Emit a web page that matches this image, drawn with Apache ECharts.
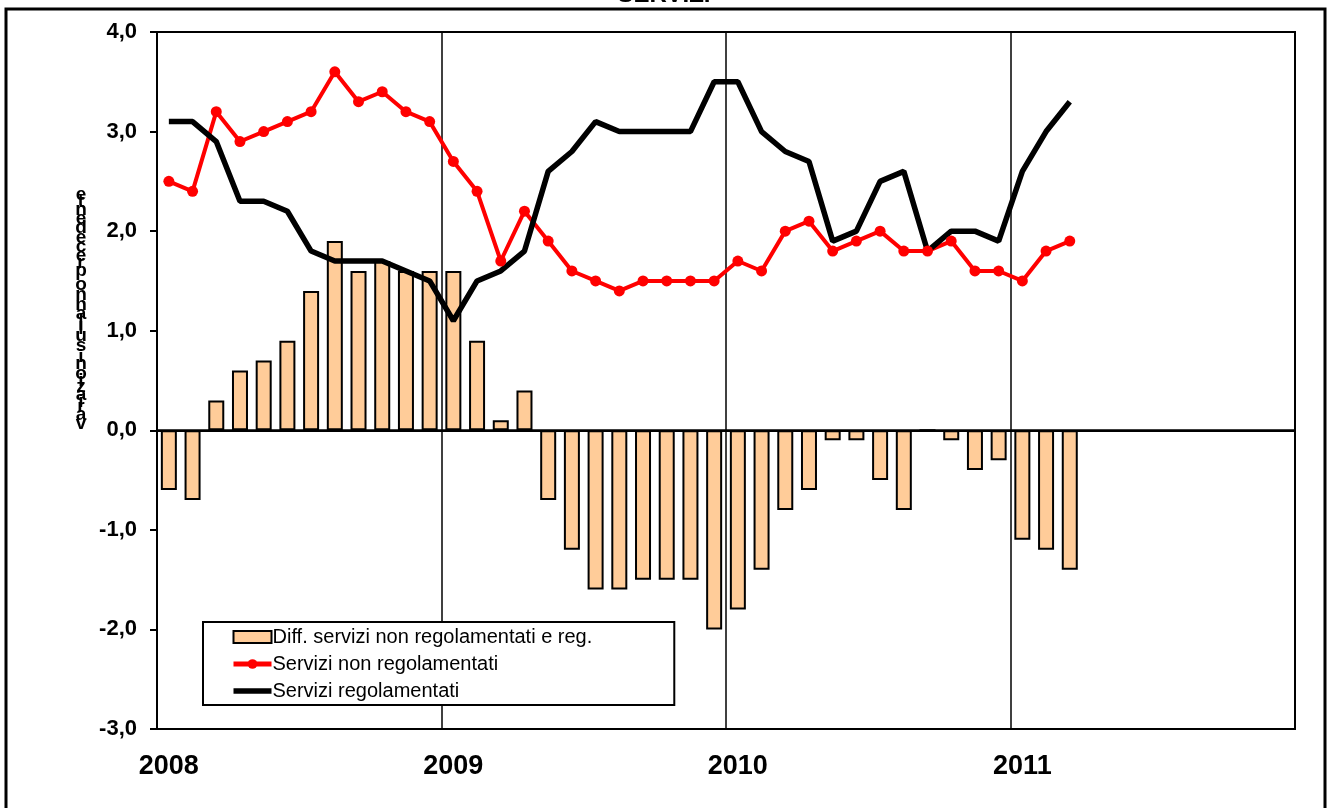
<!DOCTYPE html>
<html>
<head>
<meta charset="utf-8">
<script src="https://cdn.jsdelivr.net/npm/echarts@6/dist/echarts.min.js"></script>
<style>
    html, body { margin: 0; padding: 0; background: #fff; }
    #chart { width: 1328px; height: 808px; }
</style>
</head>
<body>
<div id="chart"></div>
<script>
// mesi da gen 2008 a dic 2011 (48 categorie), dati fino a mar 2011
const yearLabels = ['2008', '2009', '2010', '2011']
const months = []
for (let y = 0; y < yearLabels.length; y++) {
    for (let m = 1; m <= 12; m++) {
        months.push(yearLabels[y] + '-' + (m < 10 ? '0' + m : m))
    }
}

const diffValues = [
    -0.6, -0.7, 0.3, 0.6, 0.7, 0.9, 1.4, 1.9, 1.6, 1.7, 1.6, 1.6,
    1.6, 0.9, 0.1, 0.4, -0.7, -1.2, -1.6, -1.6, -1.5, -1.5, -1.5, -2.0,
    -1.8, -1.4, -0.8, -0.6, -0.1, -0.1, -0.5, -0.8, 0.0, -0.1, -0.4, -0.3,
    -1.1, -1.2, -1.4
]
const nonRegValues = [
    2.5, 2.4, 3.2, 2.9, 3.0, 3.1, 3.2, 3.6, 3.3, 3.4, 3.2, 3.1,
    2.7, 2.4, 1.7, 2.2, 1.9, 1.6, 1.5, 1.4, 1.5, 1.5, 1.5, 1.5,
    1.7, 1.6, 2.0, 2.1, 1.8, 1.9, 2.0, 1.8, 1.8, 1.9, 1.6, 1.6,
    1.5, 1.8, 1.9
]
const regValues = [
    3.1, 3.1, 2.9, 2.3, 2.3, 2.2, 1.8, 1.7, 1.7, 1.7, 1.6, 1.5,
    1.1, 1.5, 1.6, 1.8, 2.6, 2.8, 3.1, 3.0, 3.0, 3.0, 3.0, 3.5,
    3.5, 3.0, 2.8, 2.7, 1.9, 2.0, 2.5, 2.6, 1.8, 2.0, 2.0, 1.9,
    2.6, 3.0, 3.3
]

const seriesNames = ['Diff. servizi non regolamentati e reg.', 'Servizi non regolamentati', 'Servizi regolamentati']
const yAxisName = "variazioni sull'anno precedente"
const titleText = 'SERVIZI'

const fontFamily = '"Liberation Sans", Arial, sans-serif'

// etichetta asse y: lettere dritte impilate dal basso (come nell'originale)
function buildYName() {
    let ctx = document.createElement('canvas').getContext('2d')
    ctx.font = 'bold 16px ' + fontFamily
    let pos = 428
    let items = []
    for (let ch of yAxisName) {
        let w = ctx.measureText(ch).width
        if (ch !== ' ') {
            items.push({
                type: 'text',
                x: 81,
                y: pos - w / 2,
                style: {
                    text: ch,
                    font: 'bold 19px ' + fontFamily,
                    fill: '#000',
                    textAlign: 'center',
                    textVerticalAlign: 'middle'
                }
            })
        }
        pos -= w
    }
    return items
}

const chart = echarts.init(document.getElementById('chart'))

const option = {
    animation: false,
    backgroundColor: '#fff',
    grid: {
        left: 157,
        top: 32,
        right: 33,
        bottom: 79,
        show: true,
        borderColor: '#000',
        borderWidth: 2,
        backgroundColor: 'transparent'
    },
    legend: {
        orient: 'vertical',
        left: 203,
        top: 622,
        data: [
            { name: seriesNames[0], icon: 'rect' },
            { name: seriesNames[1] },
            { name: seriesNames[2], icon: 'path://M0,0 H40 V6 H0 Z' }
        ],
        backgroundColor: '#fff',
        borderColor: '#000',
        borderWidth: 2,
        borderRadius: 0,
        padding: [5, 82, 4, 28],
        itemGap: 7,
        itemWidth: 38,
        itemHeight: 12,
        lineStyle: { width: 5 },
        textStyle: {
            fontFamily: fontFamily,
            fontSize: 20,
            color: '#000',
            padding: [0, 0, 0, -4]
        }
    },
    xAxis: {
        type: 'category',
        data: months,
        boundaryGap: true,
        axisLine: { show: true, lineStyle: { color: '#000', width: 2 } },
        axisTick: { show: false },
        axisLabel: {
            interval: function (index) { return index % 12 === 0 },
            formatter: function (value) { return value.slice(0, 4) },
            fontFamily: fontFamily,
            fontWeight: 'bold',
            fontSize: 27,
            color: '#000',
            margin: 24
        },
        splitLine: {
            show: true,
            interval: function (index) { return index % 12 === 0 && index > 0 },
            lineStyle: { color: '#000', width: 1.5 }
        }
    },
    yAxis: {
        type: 'value',
        min: -3,
        max: 4,
        interval: 1,
        axisLine: { show: true, lineStyle: { color: '#000', width: 2 } },
        axisTick: { show: true, length: 7, lineStyle: { color: '#000', width: 2 } },
        axisLabel: {
            formatter: function (v) { return v.toFixed(1).replace('.', ',') },
            fontFamily: fontFamily,
            fontWeight: 'bold',
            fontSize: 22,
            color: '#000',
            margin: 20
        },
        splitLine: { show: false }
    },
    series: [
        {
            name: seriesNames[0],
            type: 'bar',
            data: diffValues,
            barWidth: 16,
            itemStyle: {
                color: '#FFCC99',
                borderColor: '#000',
                borderWidth: 2
            },
            markLine: {
                silent: true,
                symbol: 'none',
                label: { show: false },
                lineStyle: { color: '#000', width: 2.5, type: 'solid' },
                data: [{ yAxis: 0 }]
            }
        },
        {
            name: seriesNames[1],
            type: 'line',
            data: nonRegValues,
            symbol: 'circle',
            symbolSize: 11,
            lineStyle: { color: '#FF0000', width: 4 },
            itemStyle: { color: '#FF0000' }
        },
        {
            name: seriesNames[2],
            type: 'line',
            data: regValues,
            symbol: 'none',
            lineStyle: { color: '#000', width: 5.5 },
            itemStyle: { color: '#000' }
        }
    ],
    graphic: [
        {
            type: 'rect',
            shape: { x: 6, y: 9, width: 1319, height: 830 },
            style: { fill: 'none', stroke: '#000', lineWidth: 3 },
            silent: true
        },
        {
            type: 'text',
            x: 664,
            y: 7,
            style: {
                text: titleText,
                font: 'bold 24px ' + fontFamily,
                fill: '#000',
                textAlign: 'center',
                textVerticalAlign: 'bottom'
            }
        }
    ].concat(buildYName())
}

chart.setOption(option)
</script>
</body>
</html>
